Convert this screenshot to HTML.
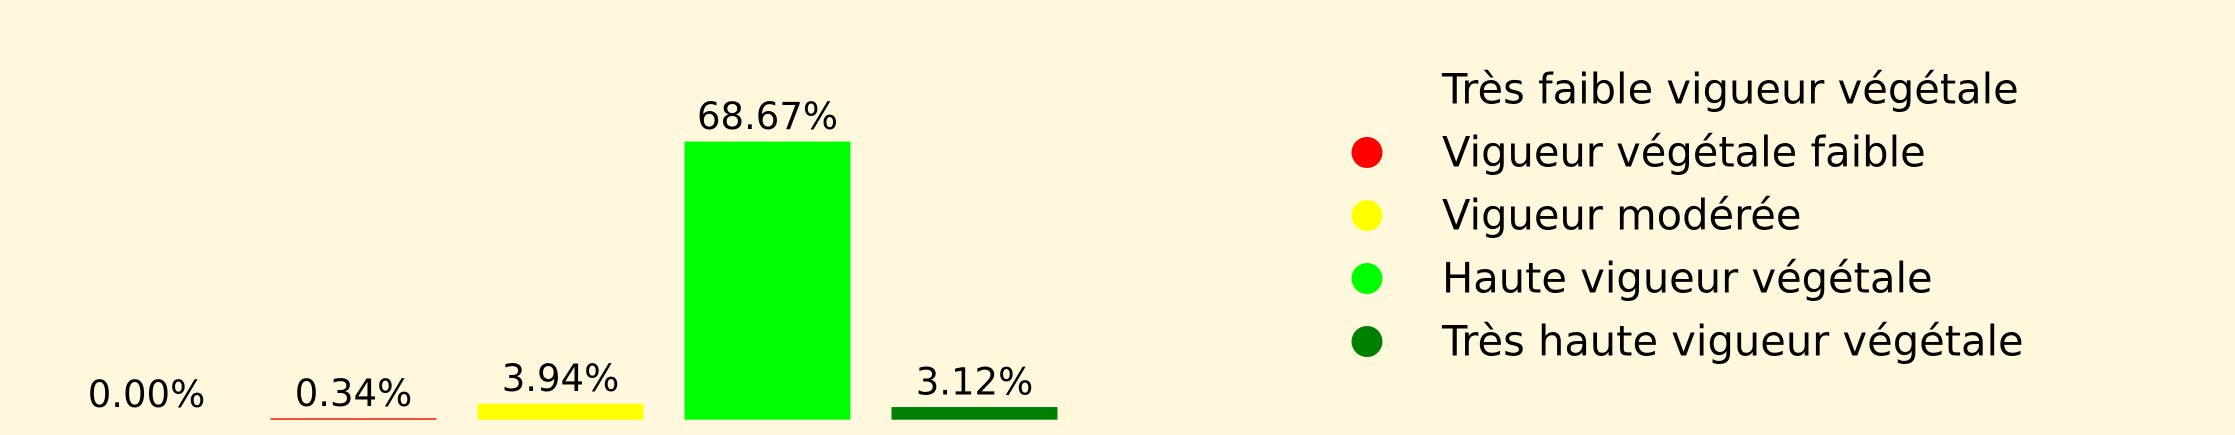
<!DOCTYPE html>
<html><head><meta charset="utf-8"><style>
html,body{margin:0;padding:0;background:#fff8dc;}
svg{display:block;font-family:"DejaVu Sans","Liberation Sans",sans-serif;}
</style></head><body>
<svg id="chart" width="2235" height="435" viewBox="0 0 2235 435" xmlns="http://www.w3.org/2000/svg">
<rect x="0" y="0" width="2235" height="435" fill="#fff8dc"/>
<g id="bars"></g>
<g id="legend"></g>
</svg>
<script>
const categories = ["Très faible vigueur végétale","Vigueur végétale faible","Vigueur modérée","Haute vigueur végétale","Très haute vigueur végétale"];
const values = [0.00, 0.34, 3.94, 68.67, 3.12];
const colors = ["#fff8dc","#ff0000","#ffff00","#00ff00","#008000"];
const valueLabels = ["0.00%","0.34%","3.94%","68.67%","3.12%"];
const NS="http://www.w3.org/2000/svg";
const baseY=419.7, pxPerUnit=4.05, x0=146.5, step=207, bw=166;
function xScale(i){return x0+i*step;}
function yScale(v){return baseY - v*pxPerUnit;}
const gb=document.getElementById('bars');
values.forEach((v,i)=>{
  const cx=xScale(i), top=yScale(v);
  const r=document.createElementNS(NS,'rect');
  
  
  r.setAttribute('x',cx-bw/2);r.setAttribute('y',top);
  r.setAttribute('width',bw);r.setAttribute('height',Math.max(baseY-top,0));
  r.setAttribute('fill',colors[i]);
  gb.appendChild(r);
  const t=document.createElementNS(NS,'text');
  
  
  t.setAttribute('x',cx);t.setAttribute('y',top-12.5);
  t.setAttribute('text-anchor','middle');t.setAttribute('font-size','37');
  t.textContent=valueLabels[i];
  gb.appendChild(t);
});
const gl=document.getElementById('legend');
categories.forEach((c,i)=>{
  const by=103.5+i*63;
  const e=document.createElementNS(NS,'g');
  
  
  const ci=document.createElementNS(NS,'circle');
  
  
  ci.setAttribute('cx',1367);ci.setAttribute('cy',by-14);ci.setAttribute('r',15.5);
  ci.setAttribute('fill',colors[i]);
  e.appendChild(ci);
  const t=document.createElementNS(NS,'text');
  
  
  t.setAttribute('x',1442);t.setAttribute('y',by);t.setAttribute('font-size','41.6');
  t.textContent=c;
  e.appendChild(t);
  gl.appendChild(e);
});
</script>
</body></html>
